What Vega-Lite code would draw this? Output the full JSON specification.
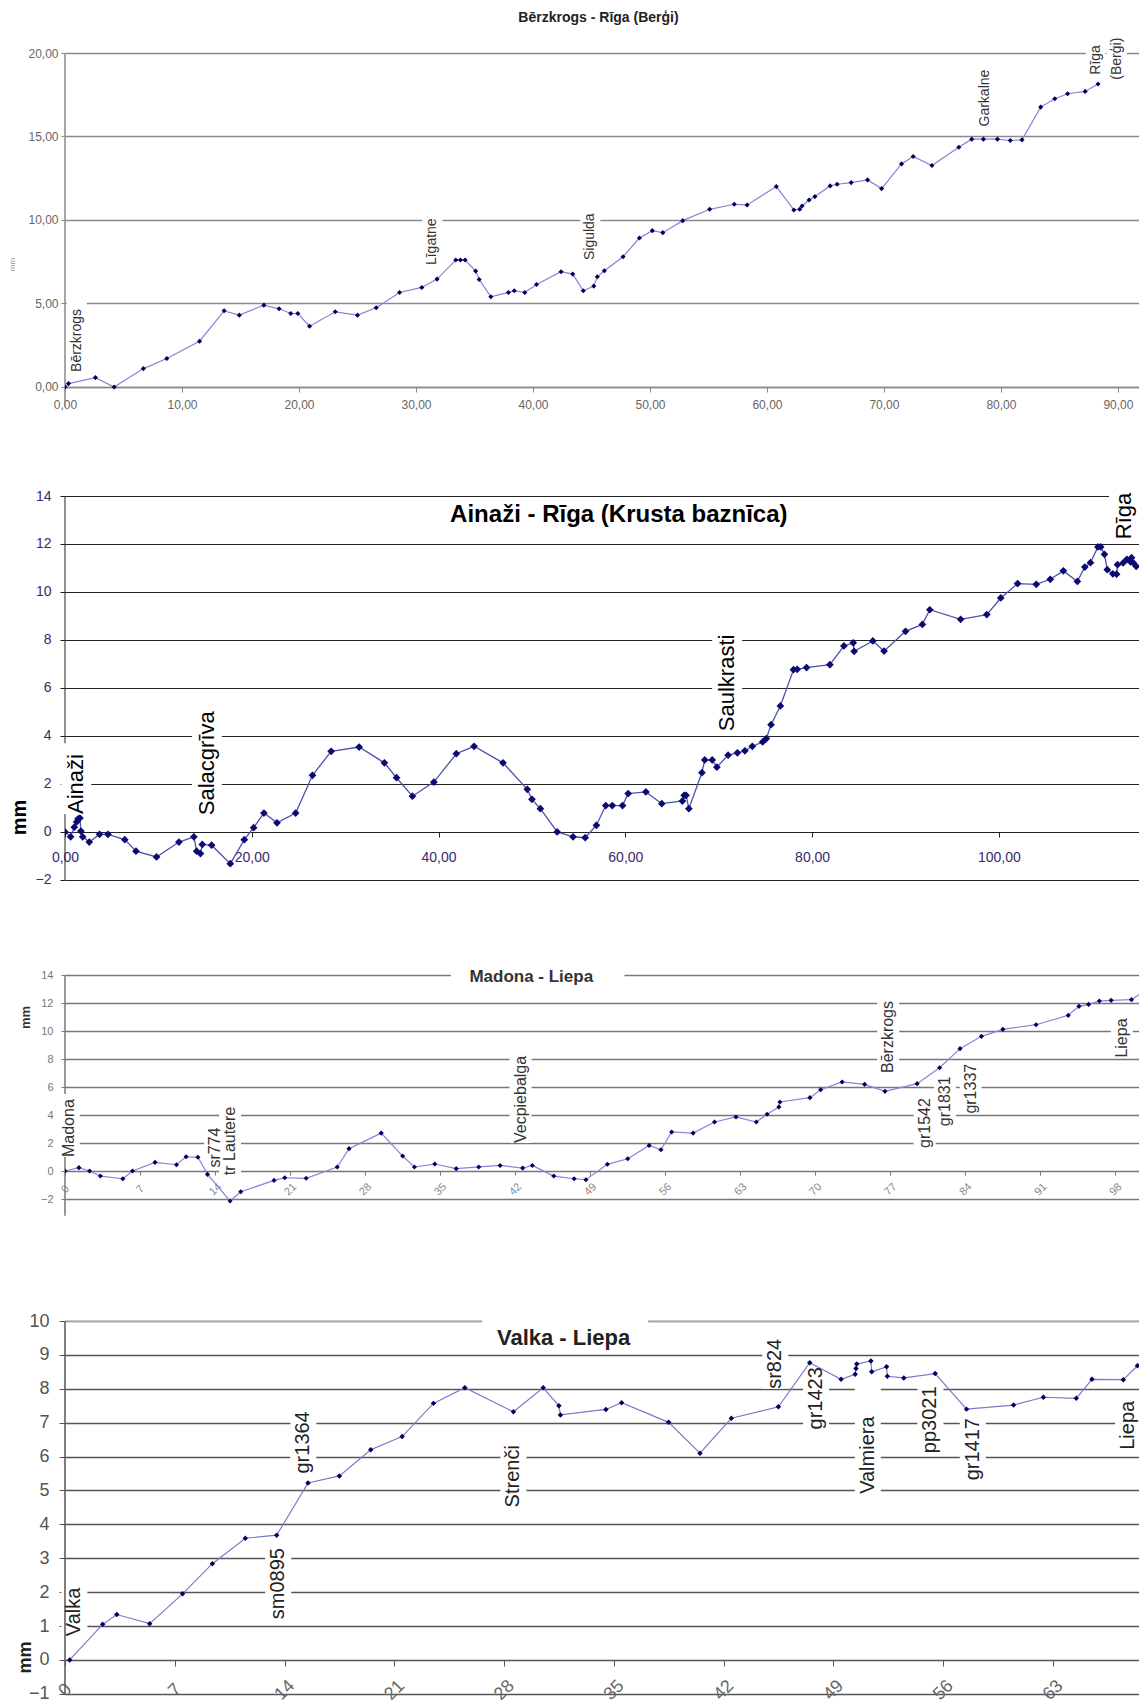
{
  "$schema": "https://vega.github.io/schema/vega-lite/v6.json",
  "autosize": {"type": "pad"},
  "padding": {"left": 8, "top": 10, "right": 0, "bottom": 0},
  "background": "white",
  "bounds": "flush",
  "spacing": 0,
  "config": {"view": {"stroke": null}, "font": "Liberation Sans", "axis": {"labelFont": "Liberation Sans", "titleFont": "Liberation Sans"}},
  "datasets": {
    "one": [{}],
    "p1": [
      {"d":0,"h":0},{"d":0.3,"h":0.2},{"d":2.6,"h":0.56},{"d":4.2,"h":0},{"d":6.7,"h":1.1},{"d":8.7,"h":1.7},{"d":11.5,"h":2.74},{"d":13.6,"h":4.56},{"d":14.9,"h":4.3},{"d":17.0,"h":4.9},{"d":18.3,"h":4.68},{"d":19.3,"h":4.4},{"d":19.9,"h":4.4},{"d":20.9,"h":3.64},{"d":23.1,"h":4.5},{"d":25.0,"h":4.3},{"d":26.6,"h":4.74},{"d":28.6,"h":5.66},{"d":30.5,"h":5.96},{"d":31.8,"h":6.46},{"d":33.4,"h":7.6},{"d":33.8,"h":7.6},{"d":34.2,"h":7.6},{"d":35.1,"h":6.94},{"d":35.4,"h":6.44},{"d":36.4,"h":5.4},{"d":37.9,"h":5.66},{"d":38.4,"h":5.76},{"d":39.3,"h":5.66},{"d":40.3,"h":6.14},{"d":42.4,"h":6.9},{"d":43.4,"h":6.76},{"d":44.3,"h":5.76},{"d":45.2,"h":6.04},{"d":45.5,"h":6.6},{"d":46.1,"h":6.96},{"d":47.7,"h":7.8},{"d":49.1,"h":8.92},{"d":50.2,"h":9.36},{"d":51.1,"h":9.24},{"d":52.8,"h":9.96},{"d":55.1,"h":10.64},{"d":57.2,"h":10.94},{"d":58.3,"h":10.9},{"d":60.8,"h":12.0},{"d":62.3,"h":10.6},{"d":62.8,"h":10.64},{"d":63.0,"h":10.84},{"d":63.6,"h":11.2},{"d":64.1,"h":11.4},{"d":65.4,"h":12.04},{"d":66.0,"h":12.14},{"d":67.2,"h":12.24},{"d":68.6,"h":12.4},{"d":69.8,"h":11.88},{"d":71.5,"h":13.36},{"d":72.5,"h":13.8},{"d":74.1,"h":13.26},{"d":76.4,"h":14.36},{"d":77.5,"h":14.84},{"d":78.5,"h":14.84},{"d":79.7,"h":14.84},{"d":80.8,"h":14.76},{"d":81.8,"h":14.8},{"d":83.4,"h":16.76},{"d":84.6,"h":17.26},{"d":85.7,"h":17.56},{"d":87.2,"h":17.7},{"d":88.3,"h":18.14}
    ],
    "l1": [
      {"t":"Bērzkrogs","x":1.0,"lo":0.9,"hi":5.4},
      {"t":"Līgatne","x":31.4,"lo":7.3,"hi":10.5},
      {"t":"Sigulda","x":44.9,"lo":7.6,"hi":10.9},
      {"t":"Garkalne","x":78.6,"lo":15.6,"hi":19.5},
      {"t":"Rīga","x":88.1,"lo":18.7,"hi":21.0},
      {"t":"(Berģi)","x":89.9,"lo":18.4,"hi":21.1}
    ],
    "p2": [
      {"d":0,"h":0},{"d":0.6,"h":-0.2},{"d":1.0,"h":0.2},{"d":1.25,"h":0.42},{"d":1.4,"h":0.55},{"d":1.6,"h":0.58},{"d":1.7,"h":0.04},{"d":1.9,"h":-0.2},{"d":2.6,"h":-0.42},{"d":3.7,"h":-0.1},{"d":4.6,"h":-0.1},{"d":6.4,"h":-0.32},{"d":7.6,"h":-0.8},{"d":9.8,"h":-1.04},{"d":12.2,"h":-0.42},{"d":13.8,"h":-0.2},{"d":14.1,"h":-0.8},{"d":14.5,"h":-0.9},{"d":14.7,"h":-0.52},{"d":15.7,"h":-0.55},{"d":17.7,"h":-1.32},{"d":19.2,"h":-0.32},{"d":20.2,"h":0.18},{"d":21.3,"h":0.79},{"d":22.7,"h":0.38},{"d":24.7,"h":0.79},{"d":26.5,"h":2.36},{"d":28.5,"h":3.36},{"d":31.5,"h":3.54},{"d":34.2,"h":2.88},{"d":35.5,"h":2.26},{"d":37.2,"h":1.49},{"d":39.5,"h":2.08},{"d":41.9,"h":3.26},{"d":43.8,"h":3.57},{"d":46.9,"h":2.88},{"d":49.5,"h":1.78},{"d":50.0,"h":1.36},{"d":50.9,"h":0.97},{"d":52.7,"h":0},{"d":54.4,"h":-0.2},{"d":55.7,"h":-0.24},{"d":56.9,"h":0.28},{"d":57.9,"h":1.1},{"d":58.6,"h":1.1},{"d":59.7,"h":1.1},{"d":60.3,"h":1.6},{"d":62.2,"h":1.67},{"d":63.9,"h":1.18},{"d":66.1,"h":1.29},{"d":66.3,"h":1.53},{"d":66.5,"h":1.53},{"d":66.8,"h":0.97},{"d":68.2,"h":2.47},{"d":68.5,"h":3.0},{"d":69.3,"h":3.0},{"d":69.8,"h":2.7},{"d":71.0,"h":3.2},{"d":72.0,"h":3.3},{"d":72.8,"h":3.38},{"d":73.6,"h":3.57},{"d":74.7,"h":3.75},{"d":75.1,"h":3.89},{"d":75.6,"h":4.47},{"d":76.6,"h":5.25},{"d":78.0,"h":6.76},{"d":78.4,"h":6.78},{"d":79.4,"h":6.85},{"d":81.9,"h":6.97},{"d":83.4,"h":7.75},{"d":84.4,"h":7.88},{"d":84.5,"h":7.53},{"d":86.5,"h":7.96},{"d":87.7,"h":7.54},{"d":90.0,"h":8.36},{"d":91.8,"h":8.65},{"d":92.6,"h":9.26},{"d":95.9,"h":8.86},{"d":98.7,"h":9.06},{"d":100.2,"h":9.75},{"d":102.0,"h":10.35},{"d":104.0,"h":10.32},{"d":105.5,"h":10.53},{"d":106.9,"h":10.88},{"d":108.4,"h":10.44},{"d":109.2,"h":11.04},{"d":109.8,"h":11.22},{"d":110.6,"h":11.88},{"d":110.9,"h":11.88},{"d":111.3,"h":11.57},{"d":111.6,"h":10.93},{"d":112.2,"h":10.76},{"d":112.6,"h":10.74},{"d":112.7,"h":11.14},{"d":113.3,"h":11.21},{"d":113.7,"h":11.36},{"d":114.1,"h":11.25},{"d":114.2,"h":11.43},{"d":114.4,"h":11.21},{"d":114.7,"h":11.07}
    ],
    "l2": [
      {"t":"Ainaži","x":1.2,"lo":0.75,"hi":3.7},
      {"t":"Salacgrīva","x":15.2,"lo":0.7,"hi":5.1},
      {"t":"Saulkrasti","x":70.9,"lo":4.2,"hi":8.35},
      {"t":"Rīga","x":113.4,"lo":12.2,"hi":14.2}
    ],
    "p3": [
      {"d":0,"h":0},{"d":1.3,"h":0.24},{"d":2.3,"h":0},{"d":3.3,"h":-0.36},{"d":5.4,"h":-0.55},{"d":6.3,"h":0},{"d":8.4,"h":0.62},{"d":10.4,"h":0.45},{"d":11.3,"h":1.02},{"d":12.4,"h":0.98},{"d":13.3,"h":-0.24},{"d":15.4,"h":-2.14},{"d":16.4,"h":-1.48},{"d":19.5,"h":-0.67},{"d":20.5,"h":-0.48},{"d":22.5,"h":-0.52},{"d":25.4,"h":0.29},{"d":26.5,"h":1.6},{"d":29.5,"h":2.71},{"d":31.5,"h":1.07},{"d":32.6,"h":0.29},{"d":34.5,"h":0.5},{"d":36.5,"h":0.17},{"d":38.6,"h":0.29},{"d":40.6,"h":0.4},{"d":42.7,"h":0.21},{"d":43.6,"h":0.4},{"d":45.6,"h":-0.36},{"d":47.5,"h":-0.55},{"d":48.6,"h":-0.62},{"d":50.6,"h":0.48},{"d":52.5,"h":0.88},{"d":54.5,"h":1.83},{"d":55.6,"h":1.52},{"d":56.6,"h":2.79},{"d":58.6,"h":2.71},{"d":60.6,"h":3.5},{"d":62.6,"h":3.86},{"d":64.5,"h":3.5},{"d":65.5,"h":4.05},{"d":66.6,"h":4.57},{"d":66.7,"h":4.93},{"d":69.5,"h":5.24},{"d":70.5,"h":5.81},{"d":72.5,"h":6.36},{"d":74.6,"h":6.19},{"d":76.5,"h":5.69},{"d":79.5,"h":6.24},{"d":81.6,"h":7.38},{"d":83.5,"h":8.74},{"d":85.5,"h":9.62},{"d":87.5,"h":10.12},{"d":90.6,"h":10.45},{"d":93.6,"h":11.12},{"d":94.6,"h":11.76},{"d":95.5,"h":11.9},{"d":96.5,"h":12.14},{"d":97.6,"h":12.19},{"d":99.5,"h":12.24},{"d":100.8,"h":12.9}
    ],
    "l3": [
      {"t":"Madona","x":0.35,"lo":1.0,"hi":5.5},
      {"t":"sr774","x":14.0,"lo":0.25,"hi":3.6},
      {"t":"tr Lautere","x":15.4,"lo":-0.3,"hi":4.25},
      {"t":"Vecpiebalga","x":42.5,"lo":2.0,"hi":8.95},
      {"t":"Bērzkrogs","x":76.8,"lo":7.0,"hi":12.9},
      {"t":"gr1542","x":80.2,"lo":1.65,"hi":5.45},
      {"t":"gr1831","x":82.1,"lo":3.2,"hi":6.9},
      {"t":"gr1337","x":84.5,"lo":4.1,"hi":7.75},
      {"t":"Liepa","x":98.6,"lo":8.1,"hi":11.2}
    ],
    "p4": [
      {"d":0.3,"h":0},{"d":2.4,"h":1.05},{"d":3.3,"h":1.34},{"d":5.4,"h":1.07},{"d":7.5,"h":1.95},{"d":9.4,"h":2.84},{"d":11.5,"h":3.59},{"d":13.5,"h":3.68},{"d":15.5,"h":5.22},{"d":17.5,"h":5.43},{"d":19.5,"h":6.2},{"d":21.5,"h":6.59},{"d":23.5,"h":7.57},{"d":25.5,"h":8.03},{"d":28.6,"h":7.32},{"d":30.5,"h":8.03},{"d":31.5,"h":7.5},{"d":31.6,"h":7.23},{"d":34.5,"h":7.39},{"d":35.5,"h":7.59},{"d":38.5,"h":7.01},{"d":40.5,"h":6.1},{"d":42.5,"h":7.13},{"d":45.5,"h":7.47},{"d":47.5,"h":8.77},{"d":49.5,"h":8.28},{"d":50.4,"h":8.43},{"d":50.45,"h":8.6},{"d":50.5,"h":8.73},{"d":51.4,"h":8.82},{"d":51.45,"h":8.5},{"d":52.4,"h":8.65},{"d":52.45,"h":8.37},{"d":53.5,"h":8.32},{"d":55.5,"h":8.45},{"d":57.5,"h":7.4},{"d":60.5,"h":7.52},{"d":62.4,"h":7.75},{"d":64.5,"h":7.72},{"d":65.5,"h":8.28},{"d":67.5,"h":8.27},{"d":68.4,"h":8.68},{"d":69.0,"h":9.0}
    ],
    "l4": [
      {"t":"Valka","x":0.6,"lo":0.7,"hi":2.3},
      {"t":"sm0895","x":13.6,"lo":1.2,"hi":3.45},
      {"t":"gr1364","x":15.2,"lo":5.5,"hi":7.5},
      {"t":"Strenči","x":28.6,"lo":4.5,"hi":6.55},
      {"t":"sr824","x":45.3,"lo":8.0,"hi":9.6},
      {"t":"gr1423","x":47.9,"lo":6.8,"hi":8.45},
      {"t":"Valmiera","x":51.2,"lo":4.9,"hi":8.1},
      {"t":"pp3021","x":55.2,"lo":6.1,"hi":8.1},
      {"t":"gr1417","x":57.9,"lo":5.3,"hi":7.15},
      {"t":"Liepa","x":67.8,"lo":6.2,"hi":7.8}
    ]
  },
  "vconcat": [
    {
      "width": 1074, "height": 443,
      "layer": [
        {"data": {"name": "one"}, "mark": {"type": "rule", "color": "#8a8a8a", "strokeWidth": 1.5},
         "encoding": {"x": {"datum": 0, "type": "quantitative"}, "y": {"datum": -1.2, "type": "quantitative"}, "y2": {"datum": 20}}},
        {"data": {"name": "l1"}, "mark": {"type": "rule", "color": "white", "strokeWidth": 20},
         "encoding": {"x": {"field": "x", "type": "quantitative"}, "y": {"field": "lo", "type": "quantitative"}, "y2": {"field": "hi"}}},
        {"data": {"name": "p1"}, "mark": {"type": "line", "color": "#8585d6", "strokeWidth": 1.2, "clip": true},
         "encoding": {
           "x": {"field": "d", "type": "quantitative", "scale": {"domain": [0, 91.8], "nice": false, "zero": false},
                 "axis": {"values": [0,10,20,30,40,50,60,70,80,90], "tickCount": 40, "labelExpr": "replace(format(datum.value, '.2f'), '.', ',')", "title": null, "grid": false, "offset": -109, "domain": true, "domainColor": "#8a8a8a", "domainWidth": 1.5, "tickColor": "#8a8a8a", "tickSize": 5, "labelColor": "#666", "labelFontSize": 12, "labelPadding": 12, "labelBaseline": "middle", "labelFlush": false, "labelOverlap": false}},
           "y": {"field": "h", "type": "quantitative", "scale": {"domain": [-6.53, 20], "nice": false, "zero": false},
                 "axis": {"values": [0,5,10,15,20], "tickCount": 40, "labelExpr": "replace(format(datum.value, '.2f'), '.', ',')", "title": "mm", "titleFontSize": 8, "titleColor": "#999", "titleFontWeight": "normal", "titleAngle": 270, "titleX": -53, "titleY": 211, "titleAlign": "center", "titleBaseline": "middle", "grid": true, "gridColor": "#8a8a8a", "gridWidth": 1.5, "domain": false, "tickColor": "#8a8a8a", "tickSize": 4, "labelColor": "#666", "labelFontSize": 12, "labelPadding": 3, "labelOverlap": false}}
         }},
        {"data": {"name": "p1"}, "mark": {"type": "point", "shape": "diamond", "filled": true, "color": "#000060", "size": 26, "opacity": 1, "clip": true},
         "encoding": {"x": {"field": "d", "type": "quantitative"}, "y": {"field": "h", "type": "quantitative"}}},
        {"data": {"name": "l1"}, "mark": {"type": "text", "angle": 270, "align": "left", "baseline": "middle", "fontSize": 14, "color": "#333"},
         "encoding": {"x": {"field": "x", "type": "quantitative"}, "y": {"field": "lo", "type": "quantitative"}, "text": {"field": "t"}}},
        {"data": {"name": "one"}, "mark": {"type": "text", "fontSize": 14, "fontWeight": "bold", "color": "#222", "align": "center", "baseline": "middle"},
         "encoding": {"x": {"datum": 45.6, "type": "quantitative"}, "y": {"datum": 22.1, "type": "quantitative"}, "text": {"value": "Bērzkrogs - Rīga (Berģi)"}}}
      ]
    },
    {
      "width": 1074, "height": 479,
      "layer": [
        {"data": {"name": "one"}, "mark": {"type": "rule", "color": "#222", "strokeWidth": 1},
         "encoding": {"x": {"datum": 0, "type": "quantitative"}, "y": {"datum": -2, "type": "quantitative"}, "y2": {"datum": 14}}},
        {"data": {"name": "l2"}, "mark": {"type": "rule", "color": "white", "strokeWidth": 30},
         "encoding": {"x": {"field": "x", "type": "quantitative"}, "y": {"field": "lo", "type": "quantitative"}, "y2": {"field": "hi"}}},
        {"data": {"name": "p2"}, "mark": {"type": "line", "color": "#5050b0", "strokeWidth": 1.3, "clip": true},
         "encoding": {
           "x": {"field": "d", "type": "quantitative", "scale": {"domain": [0, 115], "nice": false, "zero": false},
                 "axis": {"values": [0,20,40,60,80,100], "tickCount": 40, "labelExpr": "replace(format(datum.value, '.2f'), '.', ',')", "title": null, "grid": false, "offset": -143, "domain": false, "tickColor": "#222", "tickSize": 5, "labelColor": "#3a2a6a", "labelFontSize": 14, "labelPadding": 20, "labelBaseline": "middle", "labelFlush": false, "labelOverlap": false}},
           "y": {"field": "h", "type": "quantitative", "scale": {"domain": [-5.96, 14], "nice": false, "zero": false},
                 "axis": {"values": [-2,0,2,4,6,8,10,12,14], "tickCount": 40, "format": "d", "title": "mm", "titleFontSize": 20, "titleColor": "#000", "titleFontWeight": "bold", "titleAngle": 270, "titleX": -46, "titleY": 321, "titleAlign": "center", "titleBaseline": "middle", "grid": true, "gridColor": "#222", "gridWidth": 1.2, "domain": false, "tickColor": "#222", "tickSize": 5, "labelColor": "#3a2a6a", "labelFontSize": 14, "labelPadding": 9, "labelOverlap": false}}
         }},
        {"data": {"name": "p2"}, "mark": {"type": "point", "shape": "diamond", "filled": true, "color": "#0a0a70", "size": 60, "opacity": 1, "clip": true},
         "encoding": {"x": {"field": "d", "type": "quantitative"}, "y": {"field": "h", "type": "quantitative"}}},
        {"data": {"name": "l2"}, "mark": {"type": "text", "angle": 270, "align": "left", "baseline": "middle", "fontSize": 22, "color": "#000"},
         "encoding": {"x": {"field": "x", "type": "quantitative"}, "y": {"field": "lo", "type": "quantitative"}, "text": {"field": "t"}}},
        {"data": {"name": "one"}, "mark": {"type": "text", "fontSize": 24, "fontWeight": "bold", "color": "#000", "align": "center", "baseline": "middle"},
         "encoding": {"x": {"datum": 59.3, "type": "quantitative"}, "y": {"datum": 13.2, "type": "quantitative"}, "text": {"value": "Ainaži - Rīga (Krusta baznīca)"}}}
      ]
    },
    {
      "width": 1074, "height": 346,
      "layer": [
        {"data": {"name": "one"}, "mark": {"type": "rule", "color": "#777", "strokeWidth": 1.5},
         "encoding": {"x": {"datum": 0, "type": "quantitative"}, "y": {"datum": -3.2, "type": "quantitative"}, "y2": {"datum": 14}}},
        {"data": {"name": "one"}, "mark": {"type": "rule", "color": "white", "strokeWidth": 5},
         "encoding": {"x": {"datum": 36, "type": "quantitative"}, "x2": {"datum": 52.2}, "y": {"datum": 14, "type": "quantitative"}}},
        {"data": {"name": "l3"}, "mark": {"type": "rule", "color": "white", "strokeWidth": 22},
         "encoding": {"x": {"field": "x", "type": "quantitative"}, "y": {"field": "lo", "type": "quantitative"}, "y2": {"field": "hi"}}},
        {"data": {"name": "p3"}, "mark": {"type": "line", "color": "#8585d6", "strokeWidth": 1.2, "clip": true},
         "encoding": {
           "x": {"field": "d", "type": "quantitative", "scale": {"domain": [0, 100.2], "nice": false, "zero": false},
                 "axis": {"values": [0,7,14,21,28,35,42,49,56,63,70,77,84,91,98], "tickCount": 40, "format": "d", "title": null, "grid": false, "offset": -150, "domain": false, "tickColor": "#777", "tickSize": 4, "labelColor": "#888", "labelFontSize": 11, "labelAngle": -45, "labelAlign": "center", "labelBaseline": "middle", "labelPadding": 14, "labelFlush": false, "labelOverlap": false}},
           "y": {"field": "h", "type": "quantitative", "scale": {"domain": [-10.71, 14], "nice": false, "zero": false},
                 "axis": {"values": [-2,0,2,4,6,8,10,12,14], "tickCount": 40, "format": "d", "title": "mm", "titleFontSize": 13, "titleColor": "#333", "titleFontWeight": "bold", "titleAngle": 270, "titleX": -40, "titleY": 42, "titleAlign": "center", "titleBaseline": "middle", "grid": true, "gridColor": "#777", "gridWidth": 1.5, "domain": false, "tickColor": "#777", "tickSize": 4, "labelColor": "#777", "labelFontSize": 11, "labelPadding": 8, "labelOverlap": false}}
         }},
        {"data": {"name": "p3"}, "mark": {"type": "point", "shape": "diamond", "filled": true, "color": "#000060", "size": 26, "opacity": 1, "clip": true},
         "encoding": {"x": {"field": "d", "type": "quantitative"}, "y": {"field": "h", "type": "quantitative"}}},
        {"data": {"name": "l3"}, "mark": {"type": "text", "angle": 270, "align": "left", "baseline": "middle", "fontSize": 16, "color": "#333"},
         "encoding": {"x": {"field": "x", "type": "quantitative"}, "y": {"field": "lo", "type": "quantitative"}, "text": {"field": "t"}}},
        {"data": {"name": "one"}, "mark": {"type": "text", "fontSize": 17, "fontWeight": "bold", "color": "#333", "align": "center", "baseline": "middle"},
         "encoding": {"x": {"datum": 43.5, "type": "quantitative"}, "y": {"datum": 13.86, "type": "quantitative"}, "text": {"value": "Madona - Liepa"}}}
      ]
    },
    {
      "width": 1074, "height": 382,
      "layer": [
        {"data": {"name": "one"}, "mark": {"type": "rule", "color": "#c4c4c4", "strokeWidth": 1.5},
         "encoding": {"x": {"datum": 0, "type": "quantitative"}, "x2": {"datum": 26.6}, "y": {"datum": 10, "type": "quantitative"}}},
        {"data": {"name": "one"}, "mark": {"type": "rule", "color": "#c4c4c4", "strokeWidth": 1.5},
         "encoding": {"x": {"datum": 37.2, "type": "quantitative"}, "x2": {"datum": 68.5}, "y": {"datum": 10, "type": "quantitative"}}},
        {"data": {"name": "one"}, "mark": {"type": "rule", "color": "white", "strokeWidth": 4},
         "encoding": {"x": {"datum": 26.6, "type": "quantitative"}, "x2": {"datum": 37.2}, "y": {"datum": 10, "type": "quantitative"}}},
        {"data": {"name": "l4"}, "mark": {"type": "rule", "color": "white", "strokeWidth": 26},
         "encoding": {"x": {"field": "x", "type": "quantitative"}, "y": {"field": "lo", "type": "quantitative"}, "y2": {"field": "hi"}}},
        {"data": {"name": "one"}, "mark": {"type": "rule", "color": "#555", "strokeWidth": 1.5},
         "encoding": {"x": {"datum": 0, "type": "quantitative"}, "y": {"datum": -1, "type": "quantitative"}, "y2": {"datum": 10}}},
        {"data": {"name": "p4"}, "mark": {"type": "line", "color": "#7a7ac8", "strokeWidth": 1.2, "clip": true},
         "encoding": {
           "x": {"field": "d", "type": "quantitative", "scale": {"domain": [0, 68.5], "nice": false, "zero": false},
                 "axis": {"values": [0,7,14,21,28,35,42,49,56,63], "tickCount": 40, "format": "d", "title": null, "grid": false, "offset": -43, "domain": false, "tickColor": "#555", "tickSize": 6, "labelColor": "#666", "labelFontSize": 18, "labelAngle": -45, "labelAlign": "center", "labelBaseline": "middle", "labelPadding": 24, "labelFlush": false, "labelOverlap": false}},
           "y": {"field": "h", "type": "quantitative", "scale": {"domain": [-1.27, 10], "nice": false, "zero": false},
                 "axis": {"values": [-1,0,1,2,3,4,5,6,7,8,9,10], "tickCount": 40, "format": "d", "title": "mm", "titleFontSize": 18, "titleColor": "#222", "titleFontWeight": "bold", "titleAngle": 270, "titleX": -40, "titleY": 336, "titleAlign": "center", "titleBaseline": "middle", "grid": true, "gridColor": "#555", "gridWidth": 1.5, "domain": false, "tickColor": "#555", "tickSize": 6, "labelColor": "#555", "labelFontSize": 18, "labelPadding": 10, "labelOverlap": false}}
         }},
        {"data": {"name": "p4"}, "mark": {"type": "point", "shape": "diamond", "filled": true, "color": "#000060", "size": 30, "opacity": 1, "clip": true},
         "encoding": {"x": {"field": "d", "type": "quantitative"}, "y": {"field": "h", "type": "quantitative"}}},
        {"data": {"name": "l4"}, "mark": {"type": "text", "angle": 270, "align": "left", "baseline": "middle", "fontSize": 20, "color": "#222"},
         "encoding": {"x": {"field": "x", "type": "quantitative"}, "y": {"field": "lo", "type": "quantitative"}, "text": {"field": "t"}}},
        {"data": {"name": "one"}, "mark": {"type": "text", "fontSize": 22, "fontWeight": "bold", "color": "#222", "align": "center", "baseline": "middle"},
         "encoding": {"x": {"datum": 31.8, "type": "quantitative"}, "y": {"datum": 9.5, "type": "quantitative"}, "text": {"value": "Valka - Liepa"}}}
      ]
    }
  ]
}
